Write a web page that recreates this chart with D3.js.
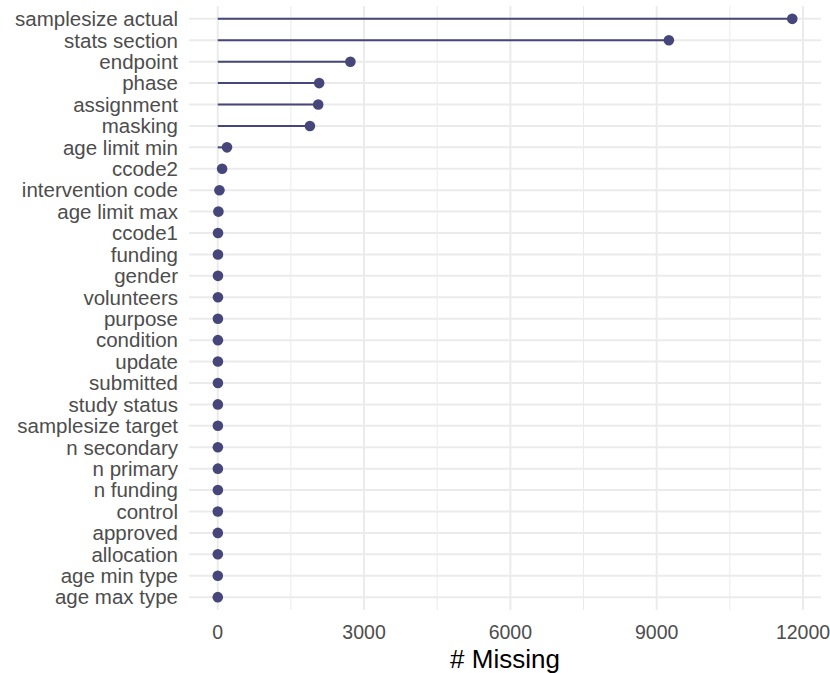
<!DOCTYPE html>
<html><head><meta charset="utf-8">
<script src="https://cdn.jsdelivr.net/npm/d3@7"></script>
<style>body{margin:0;background:#fff}svg{display:block}text{font-family:"Liberation Sans",Arial,sans-serif}</style>
</head><body><svg id="c" width="830" height="673"></svg>
<script>
const categories = ["samplesize actual","stats section","endpoint","phase","assignment","masking","age limit min","ccode2","intervention code","age limit max","ccode1","funding","gender","volunteers","purpose","condition","update","submitted","study status","samplesize target","n secondary","n primary","n funding","control","approved","allocation","age min type","age max type"];
const missing = [11780,9250,2720,2080,2060,1890,190,90,35,14,6,5,5,5,4,4,4,4,3,3,3,3,3,2,2,2,1,1];
const xTicks = [0,3000,6000,9000,12000];
const xMinor = [-1500,1500,4500,7500,10500];
const xTitle = "# Missing";

const svg = d3.select("#c");
const pLeft = 189, pRight = 821, pTop = 6, pBottom = 610;
const maxV = d3.max(missing);
const x = d3.scaleLinear().domain([-maxV*0.05, maxV*1.05]).range([pLeft, pRight]);
const y = d3.scalePoint().domain(categories).range([pTop, pBottom]).padding(0.6);

svg.append("g").selectAll("line").data(xMinor.filter(v=>x(v)>=pLeft)).join("line")
  .attr("x1",d=>x(d)).attr("x2",d=>x(d)).attr("y1",pTop).attr("y2",pBottom)
  .attr("stroke","#ebebeb").attr("stroke-width",1);
svg.append("g").selectAll("line").data(xTicks).join("line")
  .attr("x1",d=>x(d)).attr("x2",d=>x(d)).attr("y1",pTop).attr("y2",pBottom)
  .attr("stroke","#ebebeb").attr("stroke-width",2);
svg.append("g").selectAll("line").data(categories).join("line")
  .attr("x1",pLeft).attr("x2",pRight).attr("y1",d=>y(d)).attr("y2",d=>y(d))
  .attr("stroke","#ebebeb").attr("stroke-width",2);

const col = "#46467a";
svg.append("g").selectAll("line").data(categories).join("line")
  .attr("x1",x(0)).attr("x2",(d,i)=>x(missing[i])).attr("y1",d=>y(d)).attr("y2",d=>y(d))
  .attr("stroke",col).attr("stroke-width",2);
svg.append("g").selectAll("circle").data(categories).join("circle")
  .attr("cx",(d,i)=>x(missing[i])).attr("cy",d=>y(d)).attr("r",5.3).attr("fill",col);

svg.append("g").selectAll("text").data(categories).join("text")
  .attr("x",178).attr("y",d=>y(d)+7.3)
  .attr("text-anchor","end")
  .attr("font-size",20.5).attr("fill","#4d4d4d").text(d=>d);
svg.append("g").selectAll("text").data(xTicks).join("text")
  .attr("x",d=>x(d)).attr("y",639)
  .attr("text-anchor","middle")
  .attr("font-size",19.5).attr("fill","#4d4d4d").text(d=>d);
svg.append("text").attr("x",(pLeft+pRight)/2).attr("y",668)
  .attr("text-anchor","middle").attr("font-size",26).attr("fill","#000").text(xTitle);
</script></body></html>
